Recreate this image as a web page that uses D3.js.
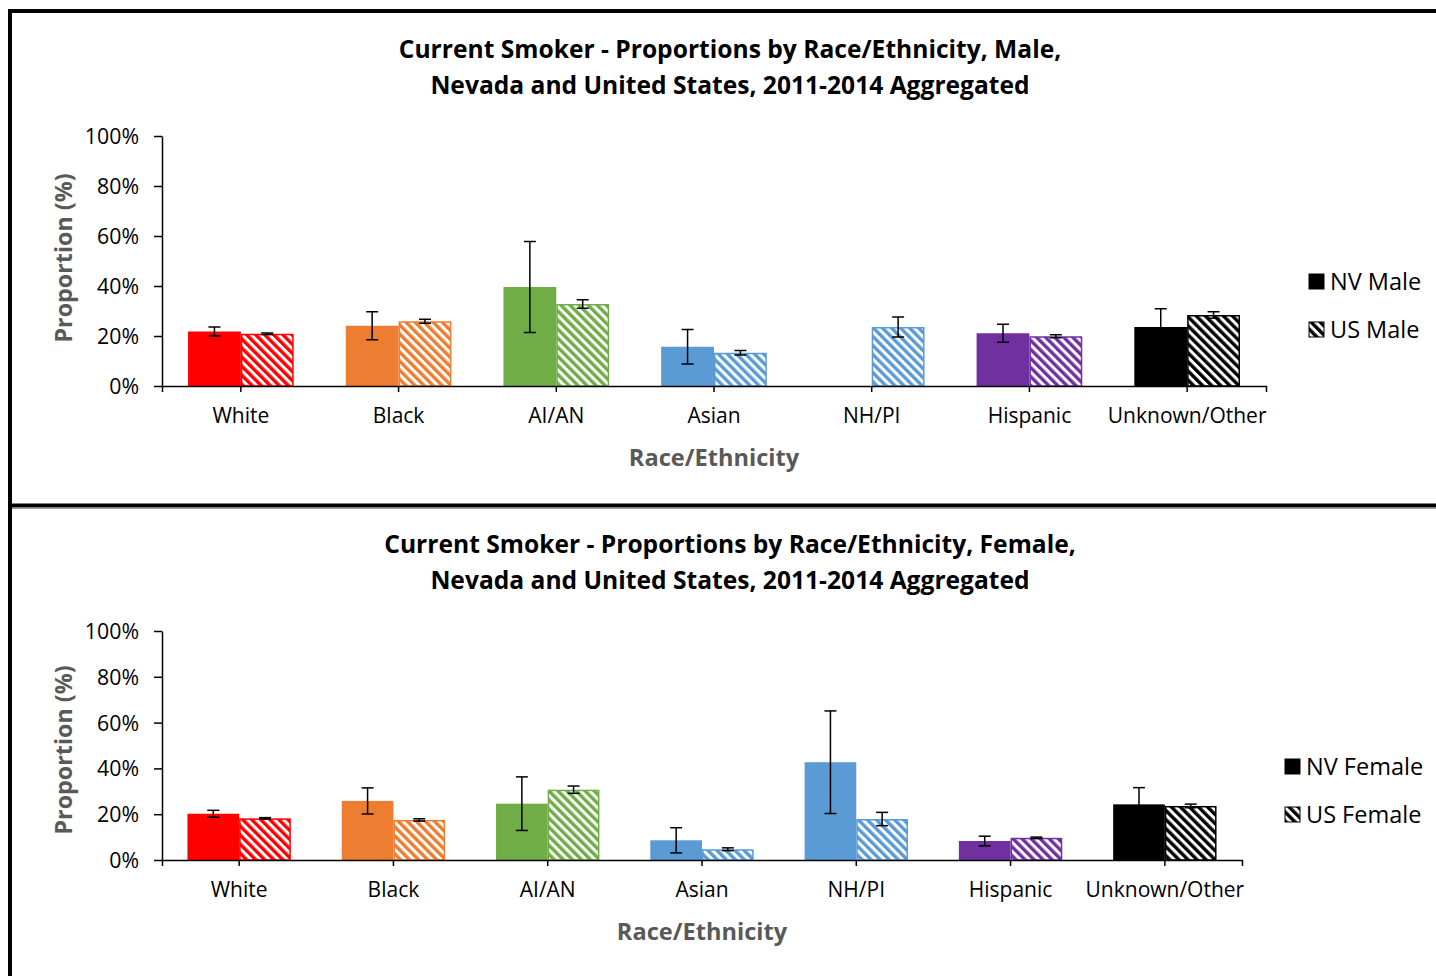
<!DOCTYPE html>
<html><head><meta charset="utf-8">
<script src="https://cdn.jsdelivr.net/npm/d3@7"></script>
<style>body{margin:0;background:#fff}svg{display:block}</style>
</head><body>
<svg id="c" width="1436" height="976"></svg>
<script>
const categories = ["White","Black","AI/AN","Asian","NH/PI","Hispanic","Unknown/Other"];
const colors = ["#FF0000","#ED7D31","#70AD47","#5B9BD5","#5B9BD5","#7030A0","#000000"];
const yTicks = [0,20,40,60,80,100];

const maleNV    = [21.8,24.1,39.6,15.7,null,21.1,23.6];
const maleNVErr = [1.8,5.6,18.2,6.9,null,3.6,7.3];
const maleUS    = [20.9,25.9,32.8,13.3,23.6,19.9,28.4];
const maleUSErr = [0.3,0.8,1.7,0.9,4.0,0.6,1.3];

const femaleNV    = [20.2,25.8,24.6,8.6,42.7,8.3,24.3];
const femaleNVErr = [1.5,5.7,11.7,5.5,22.4,2.1,7.3];
const femaleUS    = [18.2,17.5,30.7,4.7,17.9,9.7,23.6];
const femaleUSErr = [0.3,0.5,1.6,0.6,2.9,0.3,0.8];

const titlesMale = ["Current Smoker - Proportions by Race/Ethnicity, Male,","Nevada and United States, 2011-2014 Aggregated"];
const titlesFemale = ["Current Smoker - Proportions by Race/Ethnicity, Female,","Nevada and United States, 2011-2014 Aggregated"];
const legendMale = ["NV Male","US Male"];
const legendFemale = ["NV Female","US Female"];

const FONT = "'Open Sans', Lato, sans-serif";
const svg = d3.select("#c");
const defs = svg.append("defs");

function hatch(id, color){
  const p = defs.append("pattern").attr("id",id).attr("patternUnits","userSpaceOnUse")
    .attr("width",6.4).attr("height",6.4).attr("patternTransform","rotate(-45)");
  p.append("rect").attr("width",6.4).attr("height",6.4).attr("fill","#fff");
  p.append("rect").attr("width",3.4).attr("height",6.4).attr("fill",color);
}
colors.forEach((c,i)=>hatch("h"+i,c));
hatch("hk","#000");

// frame
svg.append("line").attr("x1",10).attr("x2",10).attr("y1",9).attr("y2",976).attr("stroke","#000").attr("stroke-width",4);
svg.append("line").attr("x1",8).attr("x2",1436).attr("y1",11).attr("y2",11).attr("stroke","#000").attr("stroke-width",4);
svg.append("line").attr("x1",8).attr("x2",1436).attr("y1",505.5).attr("y2",505.5).attr("stroke","#000").attr("stroke-width",4);
svg.append("line").attr("x1",12).attr("x2",1436).attr("y1",508.5).attr("y2",508.5).attr("stroke","#999").attr("stroke-width",1);

function panel(cfg){
  const g = svg.append("g");
  const x = d3.scaleBand().domain(categories).range([cfg.x0,cfg.x1]).padding(0);
  const y = d3.scaleLinear().domain([0,100]).range([cfg.yb,cfg.yt]);
  const sub = d3.scaleBand().domain(["NV","US"]).range([0,x.bandwidth()]).paddingInner(0).paddingOuter(0.4925);

  cfg.titles.forEach((t,i)=>{
    g.append("text").attr("x",cfg.tx).attr("y",cfg.ty+i*36).attr("text-anchor","middle")
      .attr("font-family",FONT).attr("font-weight","bold").attr("font-size",24.6).attr("fill","#000").text(t);
  });

  categories.forEach((c,i)=>{
    const bx = x(c);
    if(cfg.nv[i]!=null){
      g.append("rect").attr("x",bx+sub("NV")).attr("width",sub.bandwidth())
        .attr("y",y(cfg.nv[i])).attr("height",y(0)-y(cfg.nv[i])).attr("fill",colors[i]);
    }
    if(cfg.us[i]!=null){
      g.append("rect").attr("x",bx+sub("US")+0.75).attr("width",sub.bandwidth()-1.5)
        .attr("y",y(cfg.us[i])+0.75).attr("height",y(0)-y(cfg.us[i])-0.75).attr("fill","url(#h"+i+")")
        .attr("stroke",colors[i]).attr("stroke-width",1.5);
    }
  });
  const eb = (cx,v,e)=>{
    const cap=6;
    g.append("line").attr("x1",cx).attr("x2",cx).attr("y1",y(v+e)).attr("y2",y(v-e)).attr("stroke","#000").attr("stroke-width",1.5);
    [v+e,v-e].forEach(t=>g.append("line").attr("x1",cx-cap).attr("x2",cx+cap).attr("y1",y(t)).attr("y2",y(t)).attr("stroke","#000").attr("stroke-width",1.5));
  };
  categories.forEach((c,i)=>{
    if(cfg.nv[i]!=null) eb(x(c)+sub("NV")+sub.bandwidth()/2,cfg.nv[i],cfg.nvE[i]);
    if(cfg.us[i]!=null) eb(x(c)+sub("US")+sub.bandwidth()/2,cfg.us[i],cfg.usE[i]);
  });

  const ya = g.append("g").attr("transform",`translate(${cfg.x0},0)`)
    .call(d3.axisLeft(y).tickValues(yTicks).tickFormat(d=>d+"%").tickSize(8).tickSizeOuter(0));
  ya.select(".domain").attr("stroke","#000").attr("stroke-width",1.5);
  ya.selectAll(".tick line").attr("stroke","#000").attr("stroke-width",1.5);
  ya.selectAll("text").attr("font-family",FONT).attr("font-size",21.3).attr("fill","#000").attr("x",-23).attr("dy","0.35em");

  const xa = g.append("g").attr("transform",`translate(0,${cfg.yb})`)
    .call(d3.axisBottom(x).tickSize(6).tickSizeOuter(6));
  xa.select(".domain").attr("stroke","#000").attr("stroke-width",1.5);
  xa.selectAll(".tick line").attr("stroke","#000").attr("stroke-width",1.5);
  xa.selectAll("text").attr("font-family",FONT).attr("font-size",21).attr("fill","#000").attr("y",22).attr("dy","0.71em");

  g.append("text").attr("x",cfg.axx).attr("y",cfg.axy).attr("text-anchor","middle")
    .attr("font-family",FONT).attr("font-weight","bold").attr("font-size",23.6).attr("fill","#595959").text("Race/Ethnicity");
  g.append("text").attr("transform",`translate(72,${cfg.ayy}) rotate(-90)`).attr("text-anchor","middle")
    .attr("font-family",FONT).attr("font-weight","bold").attr("font-size",23.3).attr("fill","#595959").text("Proportion (%)");

  cfg.legend.forEach((t,i)=>{
    const ly = cfg.ly + i*48;
    g.append("rect").attr("x",cfg.lx).attr("y",ly-8).attr("width",15).attr("height",15)
      .attr("fill", i==0?"#000":"url(#hk)").attr("stroke","#000").attr("stroke-width",1);
    g.append("text").attr("x",cfg.lx+21).attr("y",ly).attr("dy","0.35em")
      .attr("font-family",FONT).attr("font-size",23.5).attr("fill","#000").text(t);
  });
}

panel({x0:162,x1:1266,yt:136,yb:386,tx:730,ty:58,titles:titlesMale,nv:maleNV,nvE:maleNVErr,us:maleUS,usE:maleUSErr,
  axx:714,axy:466,ayy:258,legend:legendMale,lx:1309,ly:282});
panel({x0:162,x1:1242,yt:631,yb:860,tx:730,ty:553,titles:titlesFemale,nv:femaleNV,nvE:femaleNVErr,us:femaleUS,usE:femaleUSErr,
  axx:702,axy:940,ayy:750,legend:legendFemale,lx:1285,ly:767});
</script>
</body></html>
